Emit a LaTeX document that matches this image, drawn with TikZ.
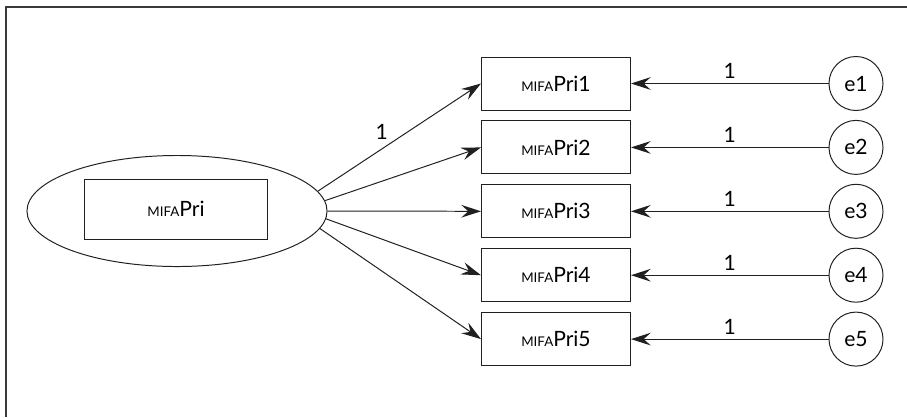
\documentclass[tikz,border=0pt]{standalone}
\usepackage{fontspec}
\setmainfont{Lato}
\definecolor{semLine}{HTML}{202020}
\definecolor{semFrame}{HTML}{3A3A3A}
\usetikzlibrary{arrows.meta,shapes.geometric}
\newcommand{\mifaname}[1]{{\fontsize{9.5}{11}\selectfont MIFA}Pri#1}
\tikzset{
  obsbox/.style={draw=semLine, rectangle, line width=0.7pt, minimum width=3.725cm,
    minimum height=1.325cm, inner sep=0pt, font=\fontsize{15}{17}\selectfont},
  errcirc/.style={draw=semLine, circle, line width=0.7pt, minimum size=1.35cm,
    inner sep=0pt, font=\fontsize{15}{17}\selectfont},
  semarrow/.style={draw=semLine, line width=0.7pt,
    -{Stealth[length=14pt, width=9pt, inset=5pt]}},
  loadlabel/.style={font=\fontsize{15}{17}\selectfont, inner sep=2pt}
}

\begin{document}
\begin{tikzpicture}[x=0.025cm, y=-0.025cm]
  \useasboundingbox (0,0) rectangle (907,417);
  % frame, top and left only
  \draw[semFrame, line width=1pt] (907,7) -- (6,7) -- (6,417);

  % latent factor
  \node[draw=semLine, ellipse, line width=0.7pt, minimum width=7.5cm,
    minimum height=2.775cm, inner sep=0pt] (lat) at (177,211) {};
  \node[obsbox, minimum width=4.575cm, minimum height=1.5cm] (latbox) at (176,209)
    {{\fontsize{9.5}{11}\selectfont MIFA}Pri};

  % indicators and errors
  \foreach \i/\ang in {1/8, 2/4, 3/0, 4/-3, 5/-7} {
    \pgfmathsetmacro\yy{83.5+63.9*(\i-1)}
    \node[obsbox] (obs\i) at (556,\yy) {\mifaname{\i}};
    \node[errcirc] (err\i) at (856,\yy) {e\i};
    \draw[semarrow] (err\i) -- node[loadlabel, above, yshift=1pt] {1} (obs\i.east);
  }

  % loadings
  \draw[semarrow] (lat.8) -- node[loadlabel, pos=0.45, above left] {1} (obs1.west);
  \draw[semarrow] (lat.4) -- (obs2.west);
  \draw[semarrow] (lat.0) -- (obs3.west);
  \draw[semarrow] (lat.-3) -- (obs4.west);
  \draw[semarrow] (lat.-7) -- (obs5.west);
\end{tikzpicture}
\end{document}
